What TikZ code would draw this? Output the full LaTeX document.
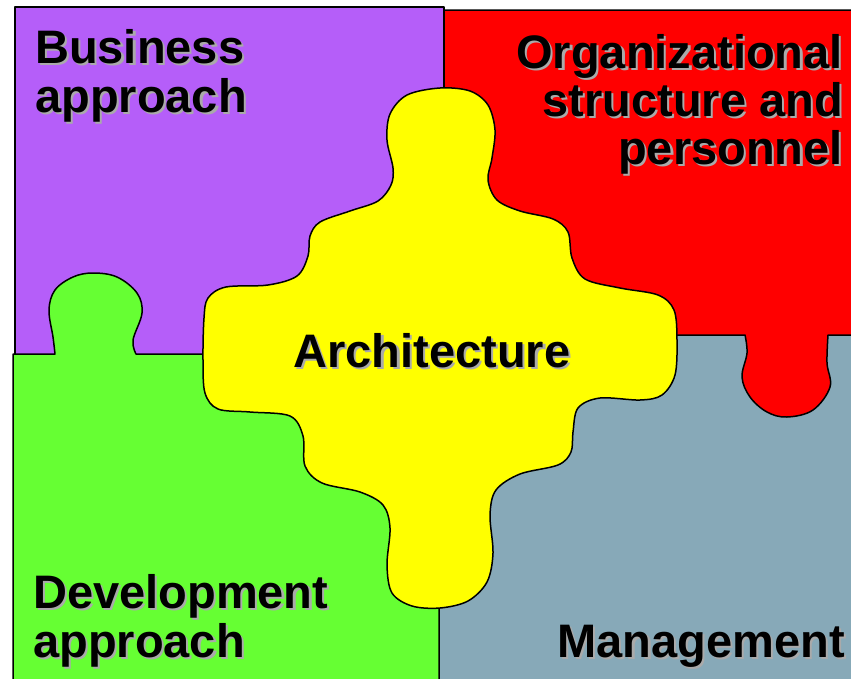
\documentclass[tikz,border=0pt]{standalone}
\usepackage{fontspec}
\setmainfont{Liberation Sans}
\definecolor{cpurple}{RGB}{181,94,249}
\definecolor{cred}{RGB}{255,0,0}
\definecolor{cgreen}{RGB}{102,255,51}
\definecolor{cyellow}{RGB}{255,255,0}
\definecolor{cgray}{RGB}{135,169,184}
\definecolor{shade}{RGB}{170,170,170}
\tikzset{
  piece/.style={draw=black, line width=1.5pt, line join=round},
  lbl/.style={inner sep=0pt, font=\fontsize{47}{49}\selectfont\bfseries},
}
\newcommand\shtxt[1]{\makebox[0pt][l]{\hspace{2.2pt}\raisebox{-2.2pt}{\textcolor{shade}{#1}}}#1}
\begin{document}
\begin{tikzpicture}[x=1pt,y=-1pt]
\useasboundingbox (0,0) rectangle (851,678);
\fill[white] (0,0) rectangle (851,678);
% purple
\draw[piece, fill=cpurple] (15,7) rectangle (444,358);
% gray
\draw[piece, fill=cgray] (439,335) rectangle (858,685);
% red with tab
\draw[piece, fill=cred] (444,335) -- (444,10) -- (858,10) -- (858,335) -- (828,335)
  -- plot[smooth, tension=0.6] coordinates {(828,335) (827,363) (830,387) (813,410) (787,417) (767,412) (750,397) (742,377) (747,353) (745,335)}
  -- cycle;
% green with tab
\draw[piece, fill=cgreen] (439,685) -- (13,685) -- (13,354) -- (55,354)
  -- plot[smooth, tension=0.6] coordinates {(55,354) (53,337) (49,310) (55,290) (73,277) (93,273) (117,277) (137,293) (142,313) (133,340) (136,354)}
  -- (439,354) -- cycle;
% yellow
\draw[piece, fill=cyellow] plot[smooth cycle, tension=0.55] coordinates {
 (440,88) (470,91) (488,105) (495,130) (492,158) (488,180) (497,200) (520,211) (553,219) (568,232) (572,258)
 (585,279) (620,288) (658,295) (674,310) (677,340) (675,375) (662,395) (640,400) (600,398) (578,408)
 (573,432) (571,452) (558,465) (520,474) (496,490) (490,515) (493,553) (487,582) (468,601) (440,608)
 (412,606) (392,593) (387,565) (390,528) (383,505) (360,492) (322,483) (305,466) (303,436) (290,416)
 (250,412) (218,409) (205,393) (203,360) (204,318) (208,298) (226,287) (268,285) (297,276) (308,256)
 (310,236) (320,222) (350,211) (378,201) (391,185) (393,168) (387,140) (390,114) (407,95)};
% labels
\node[lbl, anchor=base west] (bus1) at (35,63) {\shtxt{Business}};
\node[lbl, anchor=base west] (bus2) at (35,112) {\shtxt{approach}};
\node[lbl, anchor=base east] (org1) at (843,68) {\shtxt{Organizational}};
\node[lbl, anchor=base east] (org2) at (843,116) {\shtxt{structure and}};
\node[lbl, anchor=base east] (org3) at (843,164) {\shtxt{personnel}};
\node[lbl, anchor=base] (arch) at (432,367) {\shtxt{Architecture}};
\node[lbl, anchor=base west] (dev1) at (33,608) {\shtxt{Development}};
\node[lbl, anchor=base west] (dev2) at (33,657) {\shtxt{approach}};
\node[lbl, anchor=base east] (man) at (845,657) {\shtxt{Management}};
\end{tikzpicture}
\end{document}
